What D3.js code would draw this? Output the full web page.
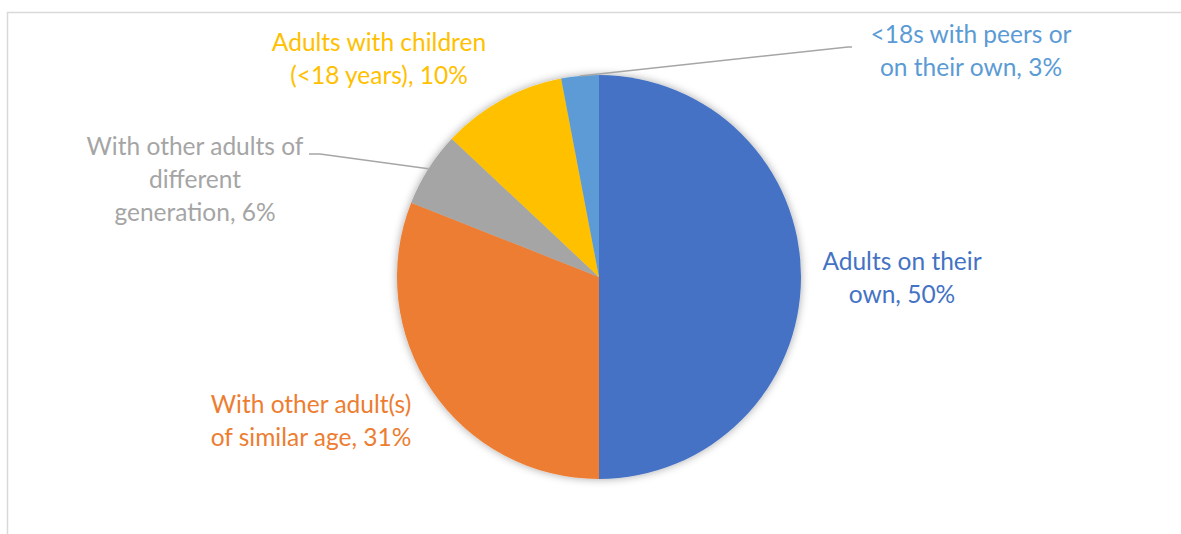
<!DOCTYPE html>
<html><head><meta charset="utf-8">
<script src="https://cdn.jsdelivr.net/npm/d3@7"></script>
<style>html,body{margin:0;padding:0;background:#fff;overflow:hidden}</style>
</head><body>
<svg id="c" width="1181" height="534"></svg>
<script>
const categories = ["Adults on their own", "With other adult(s) of similar age", "With other adults of different generation", "Adults with children (<18 years)", "<18s with peers or on their own"];
const values = [50, 31, 6, 10, 3];
const colors = ["#4472C4", "#ED7D31", "#A5A5A5", "#FFC000", "#5B9BD5"];
const labelLines = [
  ["Adults on their", "own, 50%"],
  ["With other adult(s)", "of similar age, 31%"],
  ["With other adults of", "different", "generation, 6%"],
  ["Adults with children", "(<18 years), 10%"],
  ["<18s with peers or", "on their own, 3%"]
];

const svg = d3.select("#c");
const W = 1181, H = 534;
const cx = 599, cy = 277, R = 202;

// frame
svg.append("path").attr("d", `M7.5,${H} V12.5 H${W}`).attr("fill","none").attr("stroke","#d9d9d9").attr("stroke-width",1.5);

const defs = svg.append("defs");
const f = defs.append("filter").attr("id","sh").attr("x","-20%").attr("y","-20%").attr("width","140%").attr("height","140%");
f.append("feDropShadow").attr("dx",0).attr("dy",0).attr("stdDeviation",4).attr("flood-color","#000").attr("flood-opacity",0.35);

const pie = d3.pie().sort(null).value(d => d)(values);
const arc = d3.arc().innerRadius(0).outerRadius(R);
const g = svg.append("g").attr("transform",`translate(${cx},${cy})`);
g.append("g").attr("filter","url(#sh)").selectAll("path").data(pie).join("path")
  .attr("d", arc).attr("fill",(d,i)=>colors[i]);

// label positions (centers, line spacing)
const labelPos = [[902,261],[311,404],[195,146],[379,42],[971,34]];
const lh = 33;

// leader lines
const lineColor = "#a6a6a6";
function edgePt(i, frac){
  const a = pie[i].startAngle + (pie[i].endAngle - pie[i].startAngle)*frac;
  return [cx + R*Math.sin(a), cy - R*Math.cos(a)];
}
const p2 = edgePt(2, 0.5);
svg.append("polyline").attr("points", `309,154 320,154 ${p2[0]},${p2[1]}`).attr("fill","none").attr("stroke",lineColor).attr("stroke-width",1.5);
const p4 = edgePt(4, 0.5);
svg.append("polyline").attr("points", `${p4[0]},${p4[1]} 848,47 852,47`).attr("fill","none").attr("stroke",lineColor).attr("stroke-width",1.5);

labelLines.forEach((lines,i)=>{
  const t = svg.append("text").attr("text-anchor","middle")
    .attr("font-family","Lato, 'Open Sans', sans-serif").attr("font-size",24.5)
    .attr("fill", colors[i]);
  lines.forEach((s,j)=>{
    t.append("tspan").attr("x",labelPos[i][0]).attr("y",labelPos[i][1] + j*lh).attr("dy","0.35em").text(s);
  });
});
</script>
</body></html>
